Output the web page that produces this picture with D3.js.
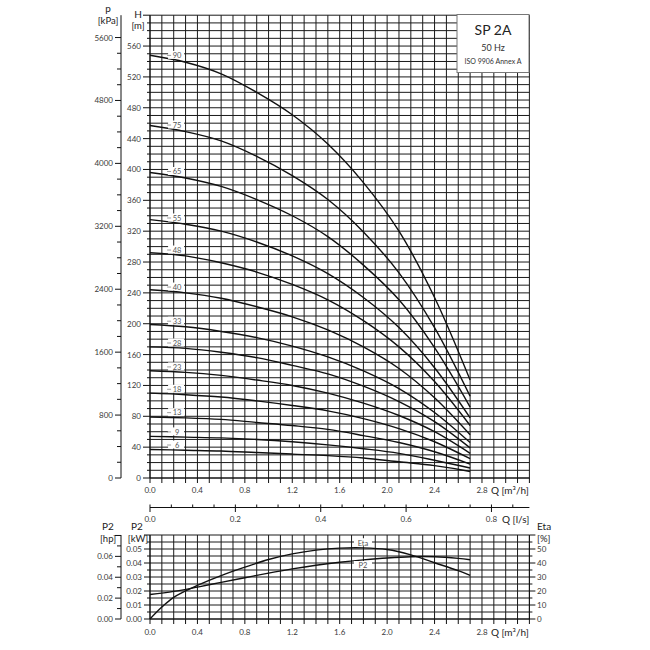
<!DOCTYPE html>
<html><head><meta charset="utf-8">
<script src="https://cdn.jsdelivr.net/npm/d3@7"></script>
<style>body{margin:0;background:#fff}svg{display:block;font-family:Lato,"Open Sans",sans-serif}</style>
</head><body><svg id="c" width="650" height="650"></svg>
<script>
// ---------- data ----------
const qPoints = [0, 0.3, 0.6, 0.9, 1.2, 1.5, 1.8, 2.1, 2.4, 2.7]; // m3/h
const stageLabels = ["90","75","65","55","48","40","33","28","23","18","13","9","6"];
const head90 = [548, 539, 524, 500, 471, 433, 383, 320, 234, 127];
const head75 = [457, 449, 437, 417, 392, 361, 319, 266, 195, 106];
const head65 = [396, 389, 378, 361, 340, 313, 276, 231, 169, 92];
const head55 = [335, 329, 320, 306, 288, 265, 234, 195, 143, 78];
const head48 = [292, 288, 279, 267, 251, 231, 204, 170, 125, 68];
const head40 = [244, 240, 233, 222, 209, 192, 170, 142, 104, 56];
const head33 = [199, 196, 190, 182, 171, 157, 139, 116, 85, 46];
const head28 = [170, 168, 163, 156, 146, 135, 119, 99, 73, 39];
const head23 = [139, 137, 133, 127, 120, 110, 97, 81, 60, 32];
const head18 = [110, 108, 105, 100, 94, 87, 77, 64, 47, 25];
const head13 = [79, 78, 76, 72, 68, 63, 55, 46, 34, 18];
const head9  = [54, 53, 52, 50, 47, 43, 38, 32, 23, 13];
const head6  = [37, 36, 35, 33, 31, 29, 26, 21, 16, 8.5];
const headSeries = [head90, head75, head65, head55, head48, head40, head33, head28, head23, head18, head13, head9, head6];

const etaQ = [0, 0.1, 0.2, 0.4, 0.6, 0.8, 1.0, 1.2, 1.4, 1.6, 1.8, 2.0, 2.2, 2.4, 2.6, 2.7];
const etaVals = [0, 8.5, 15.5, 24, 31, 37, 42.5, 46.5, 49.2, 50.6, 50.8, 49.6, 45.8, 40.2, 34.5, 31.2];
const p2Q = [0, 0.2, 0.4, 0.6, 0.8, 1.0, 1.2, 1.4, 1.6, 1.8, 2.0, 2.2, 2.4, 2.6, 2.7];
const p2Vals = [0.0175, 0.0197, 0.0228, 0.0262, 0.0295, 0.0328, 0.0358, 0.0384, 0.0405, 0.0422, 0.0436, 0.0445, 0.0445, 0.0433, 0.0423];

const qTickLabels = ["0.0","0.4","0.8","1.2","1.6","2.0","2.4","2.8"];
const lsTickLabels = ["0.0","0.2","0.4","0.6","0.8"];
const pTicks = [0, 800, 1600, 2400, 3200, 4000, 4800, 5600];
const hTicks = [0, 40, 80, 120, 160, 200, 240, 280, 320, 360, 400, 440, 480, 520, 560];
const kwTicks = [0, 0.01, 0.02, 0.03, 0.04, 0.05];
const hpTicks = [0, 0.02, 0.04, 0.06];
const etaTicks = [0, 10, 20, 30, 40, 50];

// ---------- scales ----------
const svg = d3.select("#c");
const X0 = 150, X1 = 529.4;
const x = d3.scaleLinear().domain([0, 3.2]).range([X0, X1]);
const xls = d3.scaleLinear().domain([0, 3.2 / 3.6]).range([X0, X1]);
const yH = d3.scaleLinear().domain([0, 600]).range([478, 15.2]);
const yP = d3.scaleLinear().domain([0, 600 * 9.80665]).range([478, 15.2]);
const yKW = d3.scaleLinear().domain([0, 0.06]).range([619, 535]);
const yHP = d3.scaleLinear().domain([0, 0.06 / 0.7457]).range([619, 535]);
const yEta = d3.scaleLinear().domain([0, 60]).range([619, 535]);

const txt = "#3a3a3a";
const gridCol = "#1a1a1a";

// ---------- top grid ----------
const gTop = svg.append("g");
gTop.selectAll("line.v").data(d3.range(0, 33)).join("line")
  .attr("x1", d => x(d / 10)).attr("x2", d => x(d / 10))
  .attr("y1", yH(0)).attr("y2", yH(600))
  .attr("stroke", gridCol).attr("stroke-width", 1);
gTop.selectAll("line.h").data(d3.range(0, 61)).join("line")
  .attr("x1", X0).attr("x2", X1)
  .attr("y1", d => yH(d * 10)).attr("y2", d => yH(d * 10))
  .attr("stroke", gridCol).attr("stroke-width", 1);

// ---------- bottom grid ----------
const gBot = svg.append("g");
gBot.selectAll("line.v").data(d3.range(0, 33)).join("line")
  .attr("x1", d => x(d / 10)).attr("x2", d => x(d / 10))
  .attr("y1", yKW(0)).attr("y2", yKW(0.06))
  .attr("stroke", gridCol).attr("stroke-width", 1);
gBot.selectAll("line.h").data(d3.range(0, 13)).join("line")
  .attr("x1", X0).attr("x2", X1)
  .attr("y1", d => yKW(d * 0.005)).attr("y2", d => yKW(d * 0.005))
  .attr("stroke", gridCol).attr("stroke-width", 1);

// ---------- info box ----------
svg.append("rect").attr("x", 457).attr("y", 14.5).attr("width", 72).attr("height", 58)
  .attr("fill", "#fff").attr("stroke", "#777").attr("stroke-width", 1);
svg.append("text").attr("x", 493).attr("y", 35).attr("text-anchor", "middle")
  .attr("font-size", 14).attr("fill", "#222").text("SP 2A");
svg.append("text").attr("x", 493).attr("y", 51).attr("text-anchor", "middle")
  .attr("font-size", 9).attr("fill", "#333").text("50 Hz");
svg.append("text").attr("x", 493).attr("y", 64).attr("text-anchor", "middle")
  .attr("font-size", 7).attr("fill", "#333").text("ISO 9906 Annex A");

// ---------- pump curves ----------
const line = d3.line().curve(d3.curveCatmullRom.alpha(0.5));
headSeries.forEach((s, i) => {
  svg.append("path")
    .attr("d", line(s.map((h, j) => [x(qPoints[j]), yH(h)])))
    .attr("fill", "none").attr("stroke", "#111").attr("stroke-width", 1.4);
});
// stage labels
headSeries.forEach((s, i) => {
  const hAt = s[0] + (s[1] - s[0]) * (0.22 / 0.3);
  const cy = yH(hAt) - 5;
  const cx = x(0.22);
  svg.append("rect").attr("x", cx - 8).attr("y", cy - 4.5).attr("width", 16).attr("height", 8).attr("fill", "#fff");
  svg.append("line").attr("x1", cx - 9).attr("x2", cx - 5).attr("y1", cy).attr("y2", cy).attr("stroke", "#888").attr("stroke-width", 0.8);
  svg.append("text").attr("x", cx + 1).attr("y", cy + 2.8).attr("text-anchor", "middle")
    .attr("font-size", 7.5).attr("fill", "#555").text(stageLabels[i]);
});

// ---------- top axes ----------
const ax = svg.append("g").attr("stroke", "#111").attr("stroke-width", 1);
ax.append("line").attr("x1", X0).attr("x2", X0).attr("y1", yH(0)).attr("y2", yH(600));
d3.range(0, 61).forEach(d => {
  const major = (d * 10) % 40 === 0;
  ax.append("line").attr("x1", X0 - (major ? 7 : 3)).attr("x2", X0)
    .attr("y1", yH(d * 10)).attr("y2", yH(d * 10));
});
svg.selectAll("text.h").data(hTicks).join("text")
  .attr("x", 141).attr("y", d => yH(d) + 3).attr("text-anchor", "end")
  .attr("font-size", 8).attr("fill", txt).text(d => d);
ax.append("line").attr("x1", 121).attr("x2", 121).attr("y1", yP(0)).attr("y2", yP(600 * 9.80665));
d3.range(0, 29).forEach(d => {
  const major = (d * 200) % 800 === 0;
  ax.append("line").attr("x1", 121 - (major ? 6 : 4)).attr("x2", 121)
    .attr("y1", yP(d * 200)).attr("y2", yP(d * 200));
});
svg.selectAll("text.p").data(pTicks).join("text")
  .attr("x", 113).attr("y", d => yP(d) + 3).attr("text-anchor", "end")
  .attr("font-size", 8).attr("fill", txt).text(d => d);
svg.append("text").attr("x", 108).attr("y", 12).attr("text-anchor", "middle").attr("font-size", 10).attr("fill", "#222").text("p");
svg.append("text").attr("x", 108).attr("y", 24).attr("text-anchor", "middle").attr("font-size", 9.5).attr("fill", "#222").text("[kPa]");
svg.append("text").attr("x", 138).attr("y", 18).attr("text-anchor", "middle").attr("font-size", 10).attr("fill", "#222").text("H");
svg.append("text").attr("x", 138).attr("y", 29).attr("text-anchor", "middle").attr("font-size", 9.5).attr("fill", "#222").text("[m]");

ax.append("line").attr("x1", X0).attr("x2", X1).attr("y1", yH(0)).attr("y2", yH(0));
d3.range(0, 33).forEach(d => {
  ax.append("line").attr("x1", x(d / 10)).attr("x2", x(d / 10)).attr("y1", yH(0)).attr("y2", yH(0) + 5);
});
svg.selectAll("text.qt").data(qTickLabels).join("text")
  .attr("x", d => x(+d)).attr("y", 493).attr("text-anchor", "middle")
  .attr("font-size", 8).attr("fill", txt).text(d => d);
svg.append("text").attr("x", 491).attr("y", 494).attr("font-size", 10).attr("fill", "#222").text("Q [m³/h]");

// l/s axis
ax.append("line").attr("x1", X0).attr("x2", X1).attr("y1", 507.5).attr("y2", 507.5);
d3.range(0, 18).forEach(d => {
  const major = d % 4 === 0;
  ax.append("line").attr("x1", xls(d * 0.05)).attr("x2", xls(d * 0.05))
    .attr("y1", 504.5).attr("y2", major ? 512 : 507.5);
});
svg.selectAll("text.ls").data(lsTickLabels).join("text")
  .attr("x", d => xls(+d)).attr("y", 522).attr("text-anchor", "middle")
  .attr("font-size", 8).attr("fill", txt).text(d => d);
svg.append("text").attr("x", 502).attr("y", 523).attr("font-size", 10).attr("fill", "#222").text("Q [l/s]");

// ---------- bottom curves ----------
const lineB = d3.line().curve(d3.curveCatmullRom.alpha(0.5));
svg.append("path").attr("d", lineB(etaQ.map((q, i) => [x(q), yEta(etaVals[i])])))
  .attr("fill", "none").attr("stroke", "#111").attr("stroke-width", 1.4);
svg.append("path").attr("d", lineB(p2Q.map((q, i) => [x(q), yKW(p2Vals[i])])))
  .attr("fill", "none").attr("stroke", "#111").attr("stroke-width", 1.4);
[["Eta", yEta(50.9) - 5], ["P2", yKW(0.0425) + 6]].forEach(([t, yy]) => {
  svg.append("rect").attr("x", 354).attr("y", yy - 4.5).attr("width", 18).attr("height", 8).attr("fill", "#fff");
  svg.append("text").attr("x", 363).attr("y", yy + 2.8).attr("text-anchor", "middle")
    .attr("font-size", 7.5).attr("fill", "#555").text(t);
});

// ---------- bottom axes ----------
ax.append("line").attr("x1", X0).attr("x2", X0).attr("y1", yKW(0)).attr("y2", yKW(0.06));
d3.range(0, 13).forEach(d => {
  const major = d % 2 === 0;
  ax.append("line").attr("x1", X0 - (major ? 6 : 3)).attr("x2", X0)
    .attr("y1", yKW(d * 0.005)).attr("y2", yKW(d * 0.005));
});
svg.selectAll("text.kw").data(kwTicks).join("text")
  .attr("x", 142).attr("y", d => yKW(d) + 3).attr("text-anchor", "end")
  .attr("font-size", 8).attr("fill", txt).text(d => d.toFixed(2));
ax.append("line").attr("x1", 121).attr("x2", 121).attr("y1", yHP(0)).attr("y2", yKW(0.06));
d3.range(0, 9).forEach(d => {
  const major = d % 2 === 0;
  ax.append("line").attr("x1", 121 - (major ? 6 : 4)).attr("x2", 121)
    .attr("y1", yHP(d * 0.01)).attr("y2", yHP(d * 0.01));
});
svg.selectAll("text.hp").data(hpTicks).join("text")
  .attr("x", 113).attr("y", d => yHP(d) + 3).attr("text-anchor", "end")
  .attr("font-size", 8).attr("fill", txt).text(d => d.toFixed(2));
svg.append("text").attr("x", 108).attr("y", 530).attr("text-anchor", "middle").attr("font-size", 10).attr("fill", "#222").text("P2");
svg.append("text").attr("x", 108).attr("y", 542).attr("text-anchor", "middle").attr("font-size", 9.5).attr("fill", "#222").text("[hp]");
svg.append("text").attr("x", 137).attr("y", 530).attr("text-anchor", "middle").attr("font-size", 10).attr("fill", "#222").text("P2");
svg.append("text").attr("x", 138).attr("y", 542).attr("text-anchor", "middle").attr("font-size", 9.5).attr("fill", "#222").text("[kW]");

ax.append("line").attr("x1", X1).attr("x2", X1).attr("y1", yEta(0)).attr("y2", yEta(60));
d3.range(0, 13).forEach(d => {
  const major = d % 2 === 0;
  ax.append("line").attr("x1", X1).attr("x2", X1 + (major ? 6 : 3))
    .attr("y1", yEta(d * 5)).attr("y2", yEta(d * 5));
});
svg.selectAll("text.eta").data(etaTicks).join("text")
  .attr("x", 537).attr("y", d => yEta(d) + 3).attr("text-anchor", "start")
  .attr("font-size", 8).attr("fill", txt).text(d => d);
svg.append("text").attr("x", 537).attr("y", 530).attr("font-size", 10).attr("fill", "#222").text("Eta");
svg.append("text").attr("x", 537).attr("y", 542).attr("font-size", 9.5).attr("fill", "#222").text("[%]");

ax.append("line").attr("x1", X0).attr("x2", X1).attr("y1", yKW(0)).attr("y2", yKW(0));
d3.range(0, 33).forEach(d => {
  ax.append("line").attr("x1", x(d / 10)).attr("x2", x(d / 10)).attr("y1", yKW(0)).attr("y2", yKW(0) + 5);
});
svg.selectAll("text.qb").data(qTickLabels).join("text")
  .attr("x", d => x(+d)).attr("y", 635).attr("text-anchor", "middle")
  .attr("font-size", 8).attr("fill", txt).text(d => d);
svg.append("text").attr("x", 491).attr("y", 636).attr("font-size", 10).attr("fill", "#222").text("Q [m³/h]");
</script></body></html>
